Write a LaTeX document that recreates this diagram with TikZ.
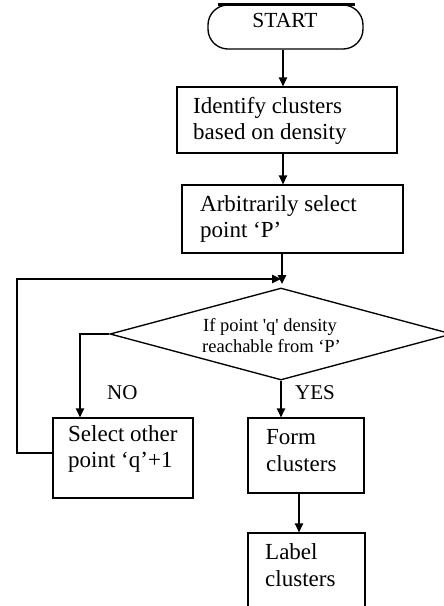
\documentclass[tikz,border=0pt]{standalone}
\usepackage{fontspec}
\setmainfont{Liberation Serif}
\usetikzlibrary{arrows.meta,shapes.geometric}
\tikzset{
  box/.style={draw, line width=1.35pt, inner sep=0pt},
  arr/.style={draw, line width=1.35pt, -{Triangle[length=9pt,width=8.5pt]}},
  txt/.style={anchor=base west, inner sep=0pt, font=\fontsize{23}{26}\selectfont},
  dtxt/.style={anchor=base west, inner sep=0pt, font=\fontsize{18.5}{21}\selectfont},
  yn/.style={anchor=base west, inner sep=0pt, font=\fontsize{21}{24}\selectfont},
}
\begin{document}
\begin{tikzpicture}[x=1pt,y=-1pt]
\clip (0,0) rectangle (444,606);
\fill[white] (0,0) rectangle (444,606);

% terminal
\node[box, rounded corners=20pt, minimum width=155pt, minimum height=44pt] (start) at (285.5,27) {};
\draw[line width=2.4pt] ([xshift=-67.5pt]start.north) -- ([xshift=69.5pt]start.north);
\node[anchor=base, inner sep=0pt, font=\fontsize{21.5}{24}\selectfont] (tstart) at (285,27) {START};

% process boxes
\node[box, minimum width=220pt, minimum height=66pt] (ident) at (287,120) {};
\node[txt] (ident1) at (193,113) {Identify clusters};
\node[txt] (ident2) at (193,139) {based on density};

\node[box, minimum width=221pt, minimum height=68pt] (arb) at (292.5,219) {};
\node[txt] (arb1) at (200,211) {Arbitrarily select};
\node[txt] (arb2) at (200,237) {point ‘P’};

% decision
\node[draw, diamond, line width=1.35pt, minimum width=342pt, minimum height=92pt, inner sep=0pt] (dia) at (281,334) {};
\node[dtxt] (dia1) at (203,331) {If point \textquotesingle q\textquotesingle{} density};
\node[dtxt] (dia2) at (202,352) {reachable from ‘P’};

\node[box, minimum width=140pt, minimum height=80pt] (select) at (123,458) {};
\node[txt] (select1) at (68,441) {Select other};
\node[txt] (select2) at (68,467) {point ‘q’+1};

\node[box, minimum width=116pt, minimum height=75pt] (form) at (306,455.5) {};
\node[txt] (form1) at (266,444) {Form};
\node[txt] (form2) at (266,471) {clusters};

\node[box, minimum width=117pt, minimum height=79pt] (label) at (306.5,572.5) {};
\node[txt] (label1) at (265,559) {Label};
\node[txt] (label2) at (265,586) {clusters};

\node[yn] (no) at (107,399) {NO};
\node[yn] (yes) at (295,399) {YES};

% connectors
\coordinate (col) at (283,0);
\coordinate (col2) at (299,0);
\coordinate (nob) at (80,0);
\coordinate (merge) at (282,284);
\coordinate (mergeh) at (281,279);
\coordinate (loopc) at (17,279);

\draw[arr] (start.south -| col) -- (ident.north -| col);
\draw[arr] (ident.south -| col) -- (arb.north -| col);
\draw[arr] (arb.south -| merge) -- (merge);
\draw[arr] ([yshift=5pt]select.west) -| (loopc) -- (mergeh);
\draw[arr] (dia.west) -| (select.north -| nob);
\draw[arr] (dia.south) -- (form.north -| dia.south);
\draw[arr] (form.south -| col2) -- (label.north -| col2);
\end{tikzpicture}
\end{document}
